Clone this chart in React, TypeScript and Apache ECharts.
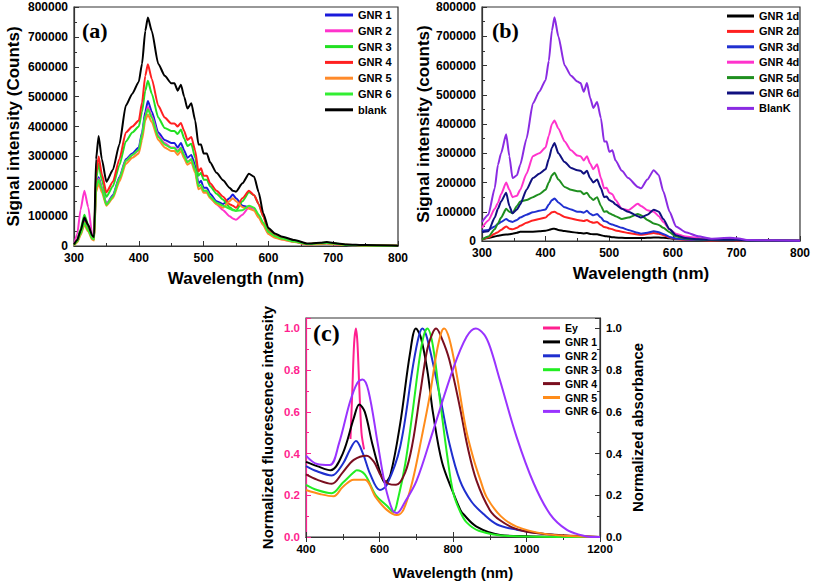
import React, { useEffect, useRef } from "react";
import * as echarts from "echarts";

// ---------- Panel (a) ----------
const waveA = [300, 305, 310, 316, 322, 328, 331, 334, 338, 343, 350, 360, 370, 380, 390, 400, 405, 410, 414, 420, 430, 440, 450, 455, 460, 465, 470, 475, 481, 487, 492, 496, 500, 505, 510, 520, 530, 540, 545, 550, 560, 570, 578, 585, 592, 600, 610, 620, 640, 660, 680, 690, 700, 720, 750, 800];
const gnr1A = [3000, 15000, 45000, 90000, 60000, 28000, 25000, 200000, 230000, 195000, 140000, 170000, 230000, 290000, 310000, 330000, 380000, 450000, 485000, 450000, 380000, 355000, 345000, 345000, 330000, 345000, 320000, 295000, 305000, 270000, 210000, 218000, 195000, 195000, 175000, 150000, 140000, 160000, 172000, 160000, 135000, 130000, 125000, 100000, 75000, 45000, 32000, 25000, 15000, 6000, 8000, 9000, 7000, 3000, 1500, 500];
const gnr2A = [3000, 40000, 120000, 185000, 130000, 40000, 25000, 190000, 225000, 195000, 140000, 165000, 225000, 285000, 305000, 320000, 370000, 435000, 465000, 435000, 370000, 345000, 330000, 330000, 318000, 330000, 305000, 282000, 290000, 255000, 200000, 205000, 185000, 185000, 165000, 140000, 120000, 100000, 92000, 88000, 105000, 130000, 125000, 100000, 72000, 42000, 30000, 23000, 14000, 5000, 8000, 9000, 6000, 3000, 1500, 500];
const gnr3A = [3000, 20000, 55000, 105000, 70000, 30000, 25000, 220000, 275000, 220000, 165000, 200000, 270000, 350000, 380000, 400000, 450000, 520000, 553000, 510000, 430000, 395000, 385000, 385000, 375000, 390000, 360000, 335000, 342000, 295000, 235000, 245000, 222000, 222000, 200000, 175000, 155000, 130000, 122000, 118000, 150000, 180000, 170000, 140000, 100000, 55000, 36000, 28000, 18000, 7000, 10000, 12000, 9000, 4000, 2000, 500];
const gnr4A = [3000, 15000, 40000, 80000, 55000, 28000, 25000, 240000, 300000, 240000, 180000, 215000, 290000, 380000, 400000, 420000, 480000, 570000, 608000, 560000, 470000, 430000, 410000, 410000, 400000, 412000, 385000, 355000, 365000, 320000, 250000, 260000, 235000, 235000, 210000, 185000, 165000, 140000, 135000, 128000, 160000, 185000, 170000, 140000, 100000, 50000, 35000, 27000, 17000, 7000, 9000, 10000, 8000, 4000, 2000, 500];
const gnr5A = [2000, 12000, 35000, 70000, 48000, 22000, 18000, 180000, 210000, 180000, 135000, 160000, 215000, 275000, 295000, 310000, 355000, 420000, 440000, 415000, 355000, 330000, 318000, 318000, 305000, 318000, 293000, 272000, 280000, 245000, 190000, 195000, 178000, 178000, 160000, 140000, 128000, 150000, 160000, 150000, 130000, 125000, 118000, 95000, 70000, 40000, 28000, 22000, 13000, 5000, 7000, 8000, 6000, 3000, 1500, 500];
const gnr6A = [3000, 15000, 40000, 78000, 52000, 25000, 22000, 195000, 222000, 190000, 138000, 165000, 225000, 285000, 305000, 322000, 372000, 435000, 458000, 430000, 365000, 340000, 328000, 328000, 315000, 328000, 303000, 280000, 290000, 255000, 200000, 205000, 185000, 185000, 165000, 145000, 135000, 125000, 120000, 118000, 120000, 135000, 128000, 105000, 78000, 47000, 33000, 25000, 15000, 6000, 9000, 10000, 8000, 3000, 1500, 500];
const blankA = [5000, 20000, 50000, 95000, 70000, 35000, 30000, 290000, 368000, 290000, 215000, 255000, 340000, 470000, 510000, 550000, 610000, 720000, 765000, 720000, 610000, 570000, 545000, 545000, 520000, 540000, 500000, 460000, 478000, 420000, 340000, 340000, 310000, 310000, 280000, 245000, 220000, 195000, 185000, 182000, 210000, 242000, 232000, 180000, 110000, 60000, 42000, 32000, 20000, 8000, 11000, 13000, 10000, 5000, 3000, 1000];

// ---------- Panel (b) ----------
const waveB = [300, 310, 320, 325, 330, 338, 343, 348, 355, 360, 370, 380, 390, 400, 405, 410, 414, 420, 430, 440, 450, 455, 460, 465, 470, 475, 481, 487, 492, 496, 500, 505, 510, 520, 530, 545, 550, 560, 570, 578, 585, 595, 605, 620, 640, 660, 690, 700, 720, 800];
const gnr1dB = [5000, 10000, 15000, 18000, 20000, 22000, 23000, 25000, 28000, 32000, 32000, 32000, 33000, 35000, 38000, 41000, 42000, 38000, 34000, 31000, 28000, 27000, 26000, 27000, 24000, 23000, 23000, 20000, 17000, 16000, 15000, 13000, 12000, 11000, 10000, 10000, 10000, 11000, 12000, 12000, 11000, 9000, 7000, 6000, 5000, 4000, 5000, 4000, 2000, 500];
const gnr2dB = [5000, 12000, 25000, 30000, 38000, 50000, 42000, 40000, 45000, 52000, 62000, 70000, 75000, 80000, 90000, 98000, 100000, 93000, 82000, 77000, 72000, 70000, 68000, 72000, 66000, 62000, 65000, 55000, 48000, 46000, 43000, 40000, 36000, 32000, 27000, 22000, 21000, 24000, 27000, 25000, 20000, 12000, 7000, 4000, 3000, 2000, 3000, 2000, 1000, 500];
const gnr3dB = [35000, 38000, 50000, 58000, 65000, 75000, 68000, 65000, 72000, 80000, 90000, 98000, 103000, 108000, 125000, 140000, 145000, 132000, 115000, 108000, 100000, 100000, 97000, 103000, 93000, 88000, 92000, 80000, 68000, 66000, 60000, 56000, 52000, 45000, 38000, 28000, 25000, 28000, 33000, 30000, 24000, 14000, 8000, 5000, 4000, 3000, 4000, 3000, 2000, 500];
const gnr4dB = [45000, 70000, 110000, 130000, 160000, 200000, 175000, 150000, 155000, 175000, 230000, 290000, 300000, 320000, 360000, 400000, 412000, 385000, 340000, 310000, 292000, 290000, 275000, 290000, 265000, 245000, 262000, 215000, 180000, 182000, 165000, 160000, 140000, 110000, 105000, 127000, 120000, 105000, 100000, 85000, 65000, 40000, 25000, 15000, 10000, 6000, 8000, 6000, 3000, 1000];
const gnr5dB = [5000, 15000, 40000, 60000, 80000, 110000, 100000, 95000, 120000, 135000, 140000, 150000, 160000, 175000, 200000, 225000, 233000, 210000, 185000, 175000, 170000, 170000, 160000, 165000, 150000, 140000, 150000, 120000, 100000, 102000, 95000, 90000, 85000, 75000, 80000, 92000, 88000, 72000, 60000, 55000, 45000, 30000, 15000, 8000, 5000, 3000, 4000, 3000, 2000, 500];
const gnr6dB = [30000, 33000, 80000, 110000, 135000, 165000, 120000, 95000, 108000, 125000, 175000, 215000, 230000, 245000, 280000, 320000, 335000, 300000, 270000, 250000, 242000, 240000, 230000, 240000, 215000, 200000, 210000, 180000, 150000, 152000, 140000, 135000, 125000, 110000, 100000, 85000, 80000, 90000, 107000, 100000, 75000, 40000, 20000, 10000, 6000, 4000, 5000, 4000, 2000, 500];
const blankB = [65000, 90000, 180000, 260000, 300000, 365000, 290000, 215000, 225000, 260000, 350000, 470000, 510000, 550000, 615000, 720000, 765000, 700000, 600000, 565000, 545000, 540000, 510000, 540000, 490000, 455000, 475000, 420000, 340000, 340000, 305000, 310000, 275000, 240000, 215000, 185000, 180000, 210000, 242000, 225000, 170000, 100000, 50000, 30000, 16000, 8000, 11000, 9000, 3000, 1000];

// ---------- Panel (c) ----------
const eyC: number[][] = [[521, 0.47], [526, 0.7], [531, 0.93], [536, 1.0], [540, 0.93], [545, 0.72], [551, 0.5], [558, 0.42]];
const gnr1C: number[][] = [[400, 0.36], [430, 0.34], [467, 0.32], [500, 0.4], [530, 0.57], [545, 0.635], [560, 0.6], [580, 0.45], [600, 0.32], [615, 0.26], [630, 0.3], [656, 0.54], [683, 0.88], [699, 1.0], [712, 0.96], [730, 0.8], [746, 0.59], [770, 0.36], [801, 0.21], [820, 0.13], [828, 0.11], [864, 0.05], [928, 0.01], [1000, 0.004], [1100, 0.001], [1200, 0]];
const gnr2C: number[][] = [[400, 0.34], [430, 0.315], [470, 0.295], [500, 0.35], [520, 0.42], [536, 0.46], [555, 0.4], [575, 0.3], [601, 0.225], [620, 0.25], [656, 0.43], [692, 0.83], [708, 0.97], [717, 1.0], [730, 0.95], [765, 0.67], [790, 0.45], [819, 0.27], [850, 0.17], [883, 0.11], [920, 0.06], [973, 0.035], [1050, 0.015], [1120, 0.005], [1200, 0]];
const gnr3C: number[][] = [[400, 0.25], [430, 0.225], [470, 0.21], [500, 0.26], [530, 0.31], [538, 0.32], [560, 0.3], [590, 0.2], [620, 0.15], [638, 0.12], [650, 0.18], [670, 0.35], [690, 0.6], [710, 0.87], [721, 0.97], [730, 1.0], [745, 0.92], [765, 0.65], [785, 0.38], [801, 0.21], [820, 0.12], [837, 0.07], [870, 0.03], [950, 0.005], [1200, 0]];
const gnr4C: number[][] = [[400, 0.3], [430, 0.275], [470, 0.255], [500, 0.31], [530, 0.37], [565, 0.39], [585, 0.36], [605, 0.29], [625, 0.255], [645, 0.25], [670, 0.31], [690, 0.45], [710, 0.68], [730, 0.9], [745, 0.98], [754, 1.0], [770, 0.95], [790, 0.85], [819, 0.62], [840, 0.43], [864, 0.27], [900, 0.13], [928, 0.08], [970, 0.04], [1019, 0.02], [1100, 0.008], [1200, 0]];
const gnr5C: number[][] = [[400, 0.225], [440, 0.205], [475, 0.195], [500, 0.24], [530, 0.275], [560, 0.275], [590, 0.19], [620, 0.13], [647, 0.105], [665, 0.13], [690, 0.27], [715, 0.48], [737, 0.68], [755, 0.88], [768, 0.98], [776, 1.0], [790, 0.95], [810, 0.78], [835, 0.52], [855, 0.38], [875, 0.27], [892, 0.19], [930, 0.1], [973, 0.05], [1050, 0.015], [1120, 0.005], [1200, 0]];
const gnr6C: number[][] = [[400, 0.39], [430, 0.35], [465, 0.345], [490, 0.45], [520, 0.65], [540, 0.74], [554, 0.755], [570, 0.7], [595, 0.45], [615, 0.25], [635, 0.13], [647, 0.115], [670, 0.17], [701, 0.27], [746, 0.51], [801, 0.81], [837, 0.96], [862, 1.0], [885, 0.97], [901, 0.91], [928, 0.75], [973, 0.48], [1019, 0.26], [1064, 0.11], [1109, 0.035], [1150, 0.008], [1175, 0], [1200, 0]];

const zip = (xs: number[], ys: number[]) => xs.map((x, i) => [x, ys[i]]);

const FONT = "Liberation Sans";
const AXIS_COLOR = "#333";

function App() {
  const ref = useRef<HTMLDivElement>(null);
  useEffect(() => {
    if (!ref.current) return;
    const chart = echarts.init(ref.current, null, { renderer: "svg" });

    const labelStyle = (color: string, size: number) => ({ fontFamily: FONT, fontWeight: "bold" as const, fontSize: size, color });
    const nameStyle = (size: number) => ({ fontFamily: FONT, fontWeight: "bold" as const, fontSize: size, color: "#000" });

    const xAxisBase = (gridIndex: number, min: number, max: number, interval: number, nameGap: number, labelSize: number, nameSize: number) => ({
      type: "value",
      gridIndex,
      min,
      max,
      interval,
      name: "Wavelength (nm)",
      nameLocation: "middle",
      nameGap,
      nameTextStyle: nameStyle(nameSize),
      axisLine: { show: true, lineStyle: { color: AXIS_COLOR, width: 1.2 } },
      axisTick: { show: true, inside: true, length: 5, lineStyle: { color: AXIS_COLOR } },
      minorTick: { show: true, splitNumber: 2, length: 3, lineStyle: { color: AXIS_COLOR } },
      axisLabel: { ...labelStyle("#000", labelSize), margin: 6, formatter: (v: number) => String(v) },
      splitLine: { show: false },
    });

    const yAxisBase = (gridIndex: number, name: string, nameGap: number, color: string, lineColor: string, position: string, max: number, interval: number, decimals: number, labelSize: number, nameSize: number) => ({
      type: "value",
      gridIndex,
      position,
      min: 0,
      max,
      interval,
      name,
      nameLocation: "middle",
      nameGap,
      nameRotate: 90,
      nameTextStyle: nameStyle(nameSize),
      axisLine: { show: true, lineStyle: { color: lineColor, width: 1.2 } },
      axisTick: { show: true, inside: true, length: 5, lineStyle: { color: lineColor } },
      minorTick: { show: true, splitNumber: 2, length: 3, lineStyle: { color: lineColor } },
      axisLabel: {
        ...labelStyle(color, labelSize),
        margin: 6,
        showMaxLabel: decimals === 0,
        formatter: (v: number) => (decimals === 0 ? String(Math.round(v)) : v.toFixed(decimals)),
      },
      splitLine: { show: false },
    });

    const lineSeries = (name: string, color: string, data: number[][], xAxisIndex: number, yAxisIndex: number, smooth = 0.3, mono: string | null = "x") => ({
      type: "line",
      name,
      xAxisIndex,
      yAxisIndex,
      data,
      symbol: "none",
      smooth,
      smoothMonotone: mono,
      lineStyle: { color, width: 2 },
      itemStyle: { color },
    });

    const legendBase = (names: string[], left: number, top: number, gap: number, iconW: number, fontSize: number, lh: number) => ({
      orient: "vertical",
      left,
      top,
      padding: 0,
      data: names.map((n) => ({ name: n, icon: "rect" })),
      itemWidth: iconW,
      itemHeight: 3,
      itemGap: gap,
      selectedMode: false,
      formatter: (n: string) => n.replace(/^[abc]:/, ""),
      textStyle: { fontFamily: FONT, fontWeight: "bold", fontSize, color: "#000", lineHeight: lh },
    });

    const namesA = ["a:GNR 1", "a:GNR 2", "a:GNR 3", "a:GNR 4", "a:GNR 5", "a:GNR 6", "a:blank"];
    const namesB = ["b:GNR 1d", "b:GNR 2d", "b:GNR 3d", "b:GNR 4d", "b:GNR 5d", "b:GNR 6d", "b:BlanK"];
    const namesC = ["c:Ey", "c:GNR 1", "c:GNR 2", "c:GNR 3", "c:GNR 4", "c:GNR 5", "c:GNR 6"];

    const topAxisC = {
      type: "value",
      gridIndex: 2,
      position: "top",
      min: 400,
      max: 1200,
      interval: 200,
      axisLine: { show: true, lineStyle: { color: AXIS_COLOR, width: 1.2 } },
      axisTick: { show: true, inside: true, length: 5, lineStyle: { color: AXIS_COLOR } },
      minorTick: { show: true, splitNumber: 2, length: 3, lineStyle: { color: AXIS_COLOR } },
      axisLabel: { show: false },
      splitLine: { show: false },
    };

    const option = {
      animation: false,
      backgroundColor: "#fff",
      grid: [
        { left: 74, top: 7, width: 324, height: 239, show: true, borderColor: AXIS_COLOR, borderWidth: 1.2, backgroundColor: "transparent" },
        { left: 482, top: 7, width: 320, height: 234, show: true, borderColor: AXIS_COLOR, borderWidth: 1.2, backgroundColor: "transparent" },
        { left: 306, top: 318, width: 294, height: 219, show: true, borderColor: AXIS_COLOR, borderWidth: 1.2, backgroundColor: "transparent" },
      ],
      xAxis: [
        xAxisBase(0, 300, 800, 100, 24, 12, 17),
        xAxisBase(1, 300, 800, 100, 24, 12, 17),
        xAxisBase(2, 400, 1200, 200, 28, 11.5, 15),
        topAxisC,
      ],
      yAxis: [
        yAxisBase(0, "Signal intensity (Counts)", 52, "#000", AXIS_COLOR, "left", 800000, 100000, 0, 12, 17),
        yAxisBase(1, "Signal intensity (counts)", 48, "#000", AXIS_COLOR, "left", 800000, 100000, 0, 12, 17),
        yAxisBase(2, "Normalized fluorescence intensity", 31, "#ff1f8f", "#ff1f8f", "left", 1.05, 0.2, 1, 11.5, 15),
        yAxisBase(2, "Normalized absorbance", 30, "#000", AXIS_COLOR, "right", 1.05, 0.2, 1, 11.5, 15),
      ],
      legend: [
        legendBase(namesA, 325, 9, 3.8, 28, 11, 12),
        legendBase(namesB, 727, 10, 3.4, 27, 11, 12),
        legendBase(namesC, 543, 322, 1.9, 17, 10.5, 12),
      ],
      graphic: [
        { type: "text", left: 82, top: 19, style: { text: "(a)", font: "bold 22px 'Liberation Serif'", fill: "#000" } },
        { type: "text", left: 492, top: 19, style: { text: "(b)", font: "bold 22px 'Liberation Serif'", fill: "#000" } },
        { type: "text", left: 313, top: 321, style: { text: "(c)", font: "bold 24px 'Liberation Serif'", fill: "#000" } },
      ],
      series: [
        lineSeries("a:GNR 1", "#1a1adb", zip(waveA, gnr1A), 0, 0, 0.2),
        lineSeries("a:GNR 2", "#ff33cc", zip(waveA, gnr2A), 0, 0, 0.2),
        lineSeries("a:GNR 3", "#22e022", zip(waveA, gnr3A), 0, 0, 0.2),
        lineSeries("a:GNR 4", "#ff2020", zip(waveA, gnr4A), 0, 0, 0.2),
        lineSeries("a:GNR 5", "#ff8a2a", zip(waveA, gnr5A), 0, 0, 0.2),
        lineSeries("a:GNR 6", "#33ee33", zip(waveA, gnr6A), 0, 0, 0.2),
        lineSeries("a:blank", "#000000", zip(waveA, blankA), 0, 0, 0.2),
        lineSeries("b:GNR 1d", "#000000", zip(waveB, gnr1dB), 1, 1, 0.2),
        lineSeries("b:GNR 2d", "#ff2020", zip(waveB, gnr2dB), 1, 1, 0.2),
        lineSeries("b:GNR 3d", "#2030d0", zip(waveB, gnr3dB), 1, 1, 0.2),
        lineSeries("b:GNR 4d", "#ff33cc", zip(waveB, gnr4dB), 1, 1, 0.2),
        lineSeries("b:GNR 5d", "#1f8f1f", zip(waveB, gnr5dB), 1, 1, 0.2),
        lineSeries("b:GNR 6d", "#10107f", zip(waveB, gnr6dB), 1, 1, 0.2),
        lineSeries("b:BlanK", "#8a2be2", zip(waveB, blankB), 1, 1, 0.2),
        lineSeries("c:Ey", "#ff1f8f", eyC, 2, 2, 0.3, null),
        lineSeries("c:GNR 1", "#000000", gnr1C, 2, 3, 0.35, null),
        lineSeries("c:GNR 2", "#1f2fcf", gnr2C, 2, 3, 0.35, null),
        lineSeries("c:GNR 3", "#22ee22", gnr3C, 2, 3, 0.35, null),
        lineSeries("c:GNR 4", "#7a0f1f", gnr4C, 2, 3, 0.35, null),
        lineSeries("c:GNR 5", "#ff8c1a", gnr5C, 2, 3, 0.35, null),
        lineSeries("c:GNR 6", "#9933ff", gnr6C, 2, 3, 0.35, null),
      ],
    };

    chart.setOption(option as any);
    return () => chart.dispose();
  }, []);

  return <div ref={ref} style={{ position: "absolute", left: 0, top: 0, width: 813, height: 582 }} />;
}

export default App;
